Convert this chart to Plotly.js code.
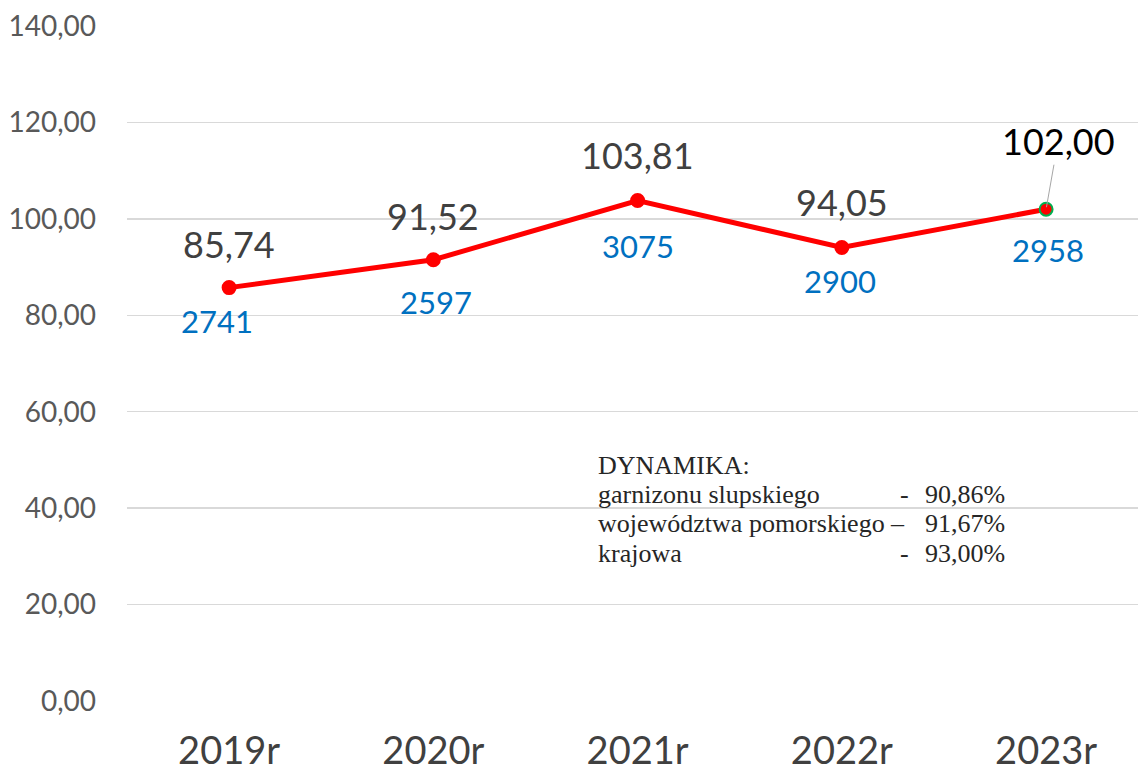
<!DOCTYPE html>
<html>
<head>
<meta charset="utf-8">
<script src="https://cdn.plot.ly/plotly-3.0.1.min.js"></script>
<style>html,body{margin:0;padding:0;background:#fff;}#chart{width:1138px;height:771px;}</style>
</head>
<body>
<div id="chart"></div>
<script>
// ---- data ----
const years = ['2019r', '2020r', '2021r', '2022r', '2023r'];
const values = [85.74, 91.52, 103.81, 94.05, 102.00];
const counts = ['2741', '2597', '3075', '2900', '2958'];
const yTicks = [0, 20, 40, 60, 80, 100, 120, 140];
const dynTitle = 'DYNAMIKA:';
const dynNames = ['garnizonu slupskiego', 'województwa pomorskiego', 'krajowa'];
const dynDashes = ['-', '–', '-'];
const dynValues = ['90,86%', '91,67%', '93,00%'];

// ---- layout helpers (positions/styles) ----
const valueShift = [44, 44, 45, 46, 0];
const countShiftY = [-33, -42, -46, -33, -41];
const countShiftX = [-12, 3, 0, -2, 2];
const fmt = v => v.toFixed(2).replace('.', ',');
const L = 127, T = 26, W = 1011, H = 675;
const px = x => (x - L) / W;
const py = y => (T + H - y) / H;

const annotations = [];
years.forEach((yr, i) => {
  if (i < years.length - 1) {
    annotations.push({
      x: yr, y: values[i], xref: 'x', yref: 'y',
      text: fmt(values[i]), showarrow: false,
      yshift: valueShift[i], xanchor: 'center', yanchor: 'middle',
      font: {family: 'Lato, sans-serif', size: 36, color: '#404040'}
    });
  } else {
    annotations.push({
      x: yr, y: values[i], xref: 'x', yref: 'y',
      text: fmt(values[i]), showarrow: true, arrowhead: 0,
      arrowwidth: 1, arrowcolor: '#A6A6A6', standoff: 2,
      ax: 12, ay: -68, xanchor: 'center', yanchor: 'middle',
      font: {family: 'Lato, sans-serif', size: 36, color: '#000000'}
    });
  }
  annotations.push({
    x: yr, y: values[i], xref: 'x', yref: 'y',
    text: counts[i], showarrow: false,
    yshift: countShiftY[i], xshift: countShiftX[i],
    xanchor: 'center', yanchor: 'middle',
    font: {family: 'Lato, sans-serif', size: 31, color: '#0070C0'}
  });
});

const boxFont = {family: '"Liberation Serif", "Times New Roman", serif', size: 26, color: '#262626'};
const lineY = [465, 494, 523, 553];
annotations.push({
  x: px(596), y: py(lineY[0]), xref: 'paper', yref: 'paper',
  text: dynTitle, showarrow: false, xanchor: 'left', yanchor: 'middle', font: boxFont
});
dynNames.forEach((n, i) => {
  annotations.push({
    x: px(596), y: py(lineY[i + 1]), xref: 'paper', yref: 'paper',
    text: n, showarrow: false, xanchor: 'left', yanchor: 'middle', font: boxFont
  });
  annotations.push({
    x: px(i === 1 ? 897 : 904), y: py(lineY[i + 1]), xref: 'paper', yref: 'paper',
    text: dynDashes[i], showarrow: false, xanchor: 'center', yanchor: 'middle', font: boxFont
  });
  annotations.push({
    x: px(1007), y: py(lineY[i + 1]), xref: 'paper', yref: 'paper',
    text: dynValues[i], showarrow: false, xanchor: 'right', yanchor: 'middle', font: boxFont
  });
});

const trace = {
  x: years, y: values, type: 'scatter', mode: 'lines+markers',
  line: {color: '#FF0000', width: 5},
  marker: {
    color: '#FF0000', size: 13,
    line: {color: years.map((_, i) => i === years.length - 1 ? '#00B050' : '#FF0000'), width: 2}
  },
  hoverinfo: 'skip'
};

const layout = {
  width: 1138, height: 771,
  margin: {l: L, r: 0, t: T, b: 771 - T - H, pad: 0},
  paper_bgcolor: '#ffffff', plot_bgcolor: '#ffffff',
  separators: ', ',
  showlegend: false,
  xaxis: {
    type: 'category', range: [-0.5, 4.45],
    showgrid: false, zeroline: false, showline: false, ticks: '',
    tickfont: {family: 'Lato, sans-serif', size: 38, color: '#404040'},
    ticklabelstandoff: 24, fixedrange: true
  },
  yaxis: {
    range: [0, 140], tickvals: yTicks, ticktext: yTicks.map(fmt),
    showgrid: true, gridcolor: '#D9D9D9', gridwidth: 1.5,
    zeroline: false, showline: false, ticks: '',
    tickfont: {family: 'Lato, sans-serif', size: 28, color: '#595959'},
    ticklabelstandoff: 30, fixedrange: true
  },
  annotations: annotations
};

Plotly.newPlot('chart', [trace], layout, {staticPlot: true, displayModeBar: false});
</script>
</body>
</html>
